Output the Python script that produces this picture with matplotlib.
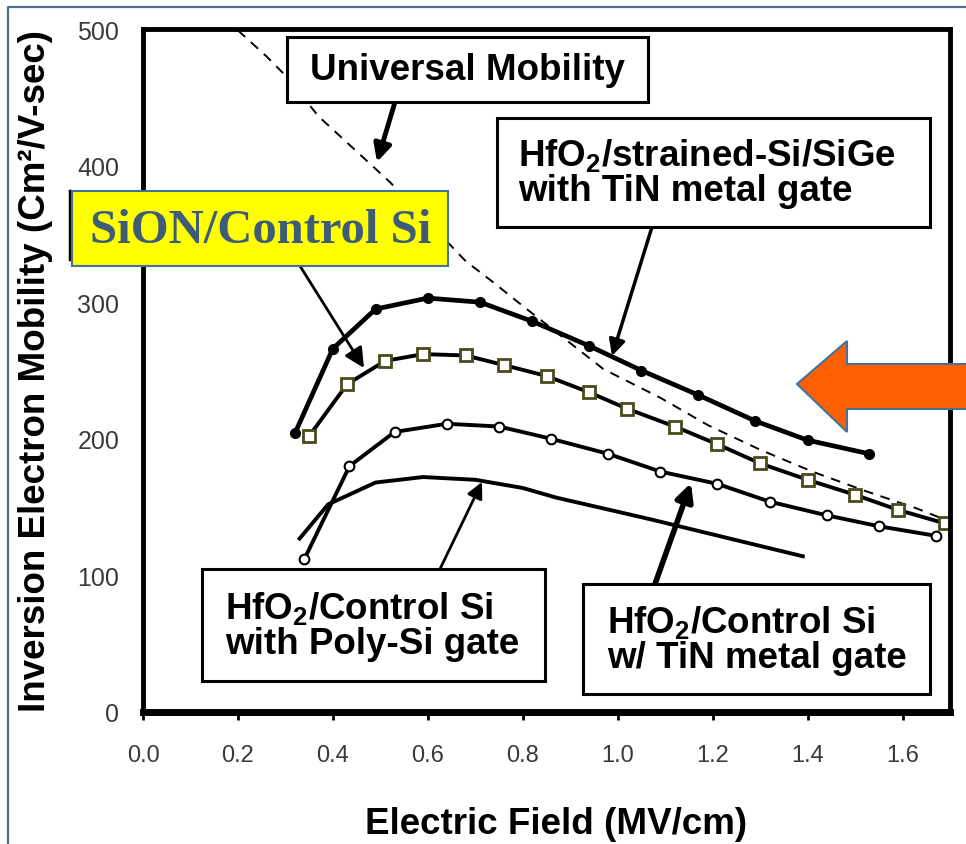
import numpy as np
import matplotlib.pyplot as plt
from matplotlib.patches import Rectangle, Polygon, FancyArrowPatch
from matplotlib.lines import Line2D

plt.rcParams['font.family'] = 'Liberation Sans'
plt.rcParams['mathtext.default'] = 'regular'

# HfO2/strained-Si/SiGe, TiN gate (filled circles)
field_strained = [0.32, 0.40, 0.49, 0.60, 0.71, 0.82, 0.94, 1.05, 1.17, 1.29, 1.40, 1.53]
mob_strained = [204, 266, 295, 303, 300, 286, 268, 250, 232, 213, 199, 189]

# SiON / control Si (open squares)
field_sion = [0.35, 0.43, 0.51, 0.59, 0.68, 0.76, 0.85, 0.94, 1.02, 1.12, 1.21, 1.30, 1.40, 1.50, 1.59, 1.69]
mob_sion = [202, 240, 257, 262, 261, 254, 246, 234, 222, 209, 196, 182, 170, 159, 148, 138]

# HfO2 / control Si, TiN gate (open circles)
field_tin = [0.34, 0.435, 0.53, 0.64, 0.75, 0.86, 0.98, 1.09, 1.21, 1.32, 1.44, 1.55, 1.67]
mob_tin = [112, 180, 205, 211, 209, 200, 189, 176, 167, 154, 144, 136, 129]

# HfO2 / control Si, poly-Si gate (line only)
field_poly = [0.33, 0.39, 0.49, 0.59, 0.70, 0.80, 0.87, 1.07, 1.20, 1.39]
mob_poly = [127, 152, 168, 172, 170, 164, 157, 141, 130, 114]

# universal mobility curve (dashed)
field_univ = [0.20, 0.26, 0.30, 0.37, 0.42, 0.47, 0.52, 0.68, 0.74, 0.79, 0.97, 1.09, 1.19, 1.30, 1.41, 1.52, 1.63, 1.71]
mob_univ = [499, 480, 466, 436, 420, 404, 388, 330, 314, 300, 251, 230, 210, 192, 176, 162, 149, 138]

x_ticks = [0.0, 0.2, 0.4, 0.6, 0.8, 1.0, 1.2, 1.4, 1.6]
y_ticks = [0, 100, 200, 300, 400, 500]

W, H = 966, 845
fig = plt.figure(figsize=(W / 100, H / 100), dpi=100)
ax = fig.add_axes([143 / W, 1 - 713 / H, (950 - 143) / W, (713 - 30) / H])


def fp(px, py):
    return (px / W, 1 - py / H)


ax.plot(field_univ, mob_univ, color='black', lw=1.4, ls=(0, (5, 4)))
ax.plot(field_poly, mob_poly, color='black', lw=2.8)
ax.plot(field_tin, mob_tin, color='black', lw=2.8, marker='o', ms=7,
        mfc='white', mec='black', mew=1.5)
ax.plot(field_sion, mob_sion, color='black', lw=2.8, marker='s', ms=9,
        mfc='white', mec='#4a4a1c', mew=2)
ax.plot(field_strained, mob_strained, color='black', lw=3.4, marker='o', ms=7,
        mfc='black', mec='black')

ax.set_xlim(0, 1.7)
ax.set_ylim(0, 500)
ax.set_xticks(x_ticks)
ax.set_xticklabels(['%.1f' % v for v in x_ticks])
ax.set_yticks(y_ticks)
ax.tick_params(axis='x', direction='out', length=6, width=2, pad=17,
               labelsize=17, labelcolor='#3a3a3a')
ax.tick_params(axis='y', length=0, pad=17, labelsize=18, labelcolor='#3a3a3a')
for side in ['left', 'right', 'top']:
    ax.spines[side].set_linewidth(3.5)
ax.spines['bottom'].set_linewidth(5)

fig.text(36 / W, 1 - 371 / H, 'Inversion Electron Mobility (Cm²/V-sec)',
         rotation=90, fontsize=26.5, fontweight='bold', ha='center', va='center')
fig.text(556 / W, 1 - 825 / H, 'Electric Field (MV/cm)',
         fontsize=26.5, fontweight='bold', ha='center', va='center')


def box(x0, y0, x1, y1, face='white', edge='black', lw=2.2):
    fig.add_artist(Rectangle(fp(x0, y1), (x1 - x0) / W, (y1 - y0) / H,
                             transform=fig.transFigure, facecolor=face,
                             edgecolor=edge, lw=lw, zorder=3))


def arrow(tail, tip, lw, ms):
    fig.add_artist(FancyArrowPatch(fp(*tail), fp(*tip), transform=fig.transFigure,
                                   arrowstyle='-|>', mutation_scale=ms, lw=lw,
                                   color='black', shrinkA=0, shrinkB=0, zorder=2.5))


arrow((395, 103), (377, 163), 3.5, 26)
arrow((652, 228), (612, 357), 2.5, 24)
arrow((300, 267), (364, 369), 2.0, 30)
arrow((440, 570), (482, 483), 2.0, 24)
arrow((655, 585), (691, 484), 4.0, 26)

label_kw = dict(fontsize=26.5, fontweight='bold', linespacing=1.0, zorder=4)

box(287, 38, 648, 103)
fig.text(*fp(467, 70), 'Universal Mobility', ha='center', va='center', **label_kw)

box(497, 119, 930, 228)
fig.text(*fp(518, 173), 'HfO$_2$/strained-Si/SiGe\nwith TiN metal gate',
         ha='left', va='center', **label_kw)

box(202, 570, 545, 682)
fig.text(*fp(225, 626), 'HfO$_2$/Control Si\nwith Poly-Si gate',
         ha='left', va='center', **label_kw)

box(583, 585, 930, 695)
fig.text(*fp(607, 640), 'HfO$_2$/Control Si\nw/ TiN metal gate',
         ha='left', va='center', **label_kw)

# yellow callout
fig.add_artist(Line2D([70 / W, 70 / W], [1 - 192 / H, 1 - 260 / H],
                      transform=fig.transFigure, color='black', lw=2.5, zorder=3))
box(72, 192, 448, 267, face='#ffff00', edge='#41719c', lw=1.5)
fig.text(*fp(261, 231), 'SiON/Control Si', ha='center', va='center',
         fontsize=35, fontweight='bold', family='Liberation Serif',
         color='#3e5c78', zorder=4)

# orange arrow at the right
arrow_pts = [(797, 385), (847, 342), (847, 365), (980, 365),
             (980, 410), (847, 410), (847, 433)]
fig.add_artist(Polygon([fp(*p) for p in arrow_pts], closed=True,
                       transform=fig.transFigure, facecolor='#ff5f00',
                       edgecolor='#41719c', lw=1.5, zorder=4))

# slide frame
fig.add_artist(Line2D([8 / W, 8 / W, 1.0], [0.0, 1 - 8 / H, 1 - 8 / H],
                      transform=fig.transFigure, color='#4f6f8c', lw=1.6, zorder=5))

fig.savefig('out.png', dpi=100)
